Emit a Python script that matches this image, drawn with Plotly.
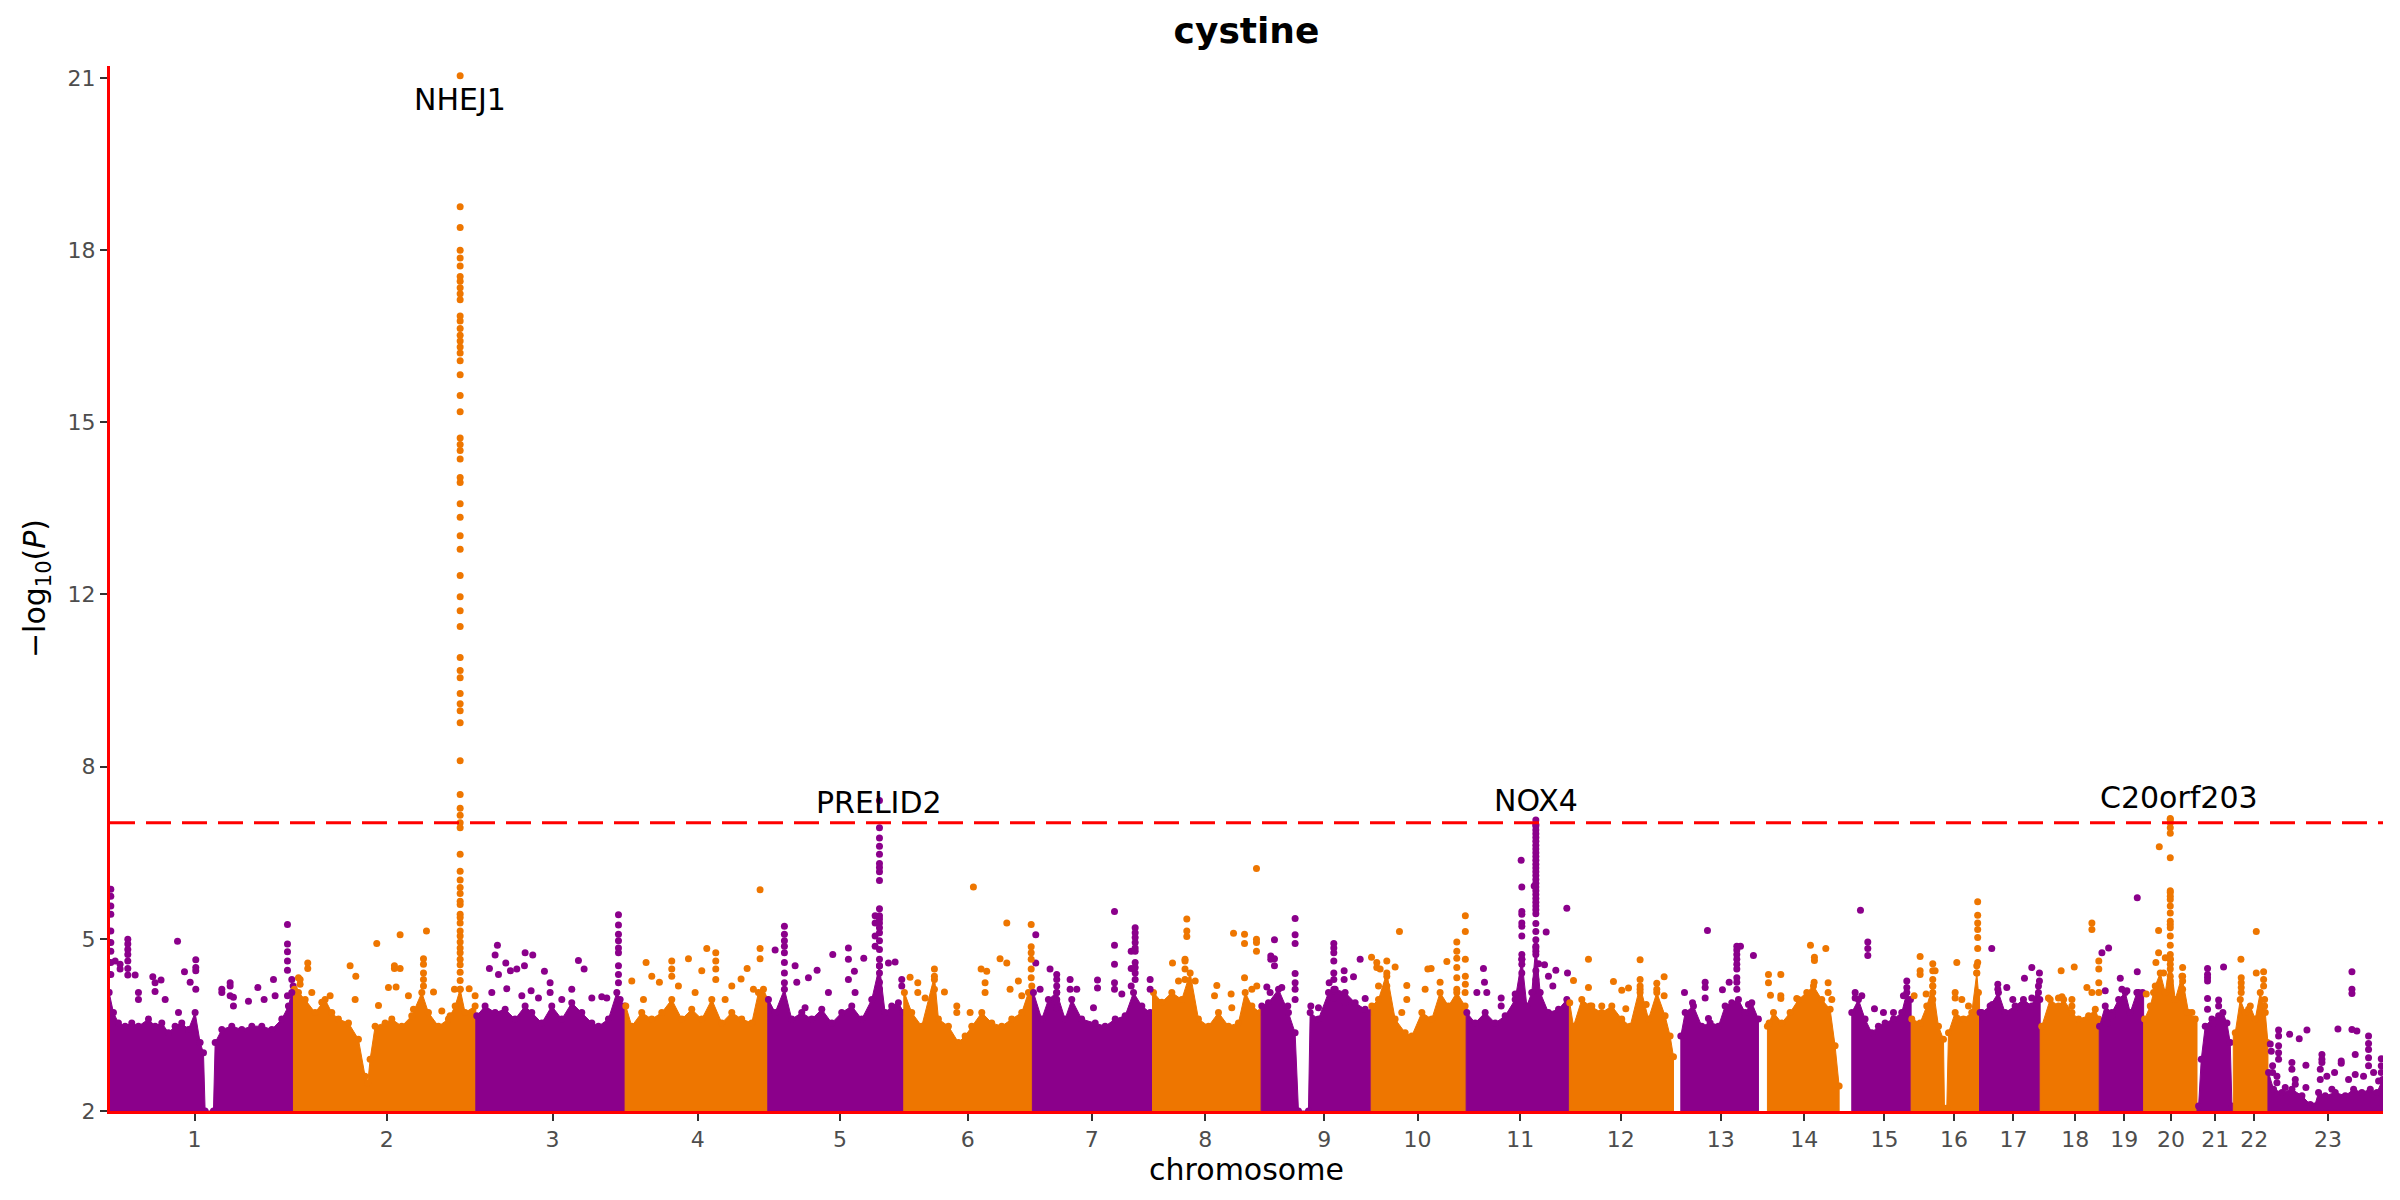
import bisect
import plotly.graph_objects as go

# chromosome layout (cumulative position, Mb)
chrom_names = [str(i) for i in range(1, 24)]
chrom_start = [0, 246.9, 490.5, 690.0, 880.6, 1062.3, 1234.1, 1394.6, 1539.7, 1686.7,
               1813.6, 1951.5, 2095.0, 2210.0, 2320.0, 2408.1, 2499.5, 2580.5, 2659.4,
               2718.7, 2790.0, 2838.5, 2884.8]
genome_end = 3039.3
tick_mb = [114.7, 371.6, 593.0, 787.0, 977.2, 1147.8, 1313.5, 1465.0, 1624.0, 1748.6,
           1885.8, 2020.2, 2153.8, 2265.2, 2372.5, 2465.5, 2544.8, 2627.4, 2692.8,
           2755.2, 2814.4, 2866.5, 2964.9]

y_breaks = [2, 5.1667, 8.3333, 11.5, 14.6667, 17.8333, 21]
y_labels = ["2", "5", "8", "12", "15", "18", "21"]
threshold = 7.3

# top of the dense cloud of SNPs (position Mb, -log10 P)
band_points = [
    # 1
    (0.65, 4.18), (6.4, 3.81), (13.1, 3.62), (22.0, 3.56), (30.9, 3.62), (39.8, 3.56), (53.2, 3.69),
    (62.1, 3.56), (71.0, 3.62), (79.9, 3.44), (88.8, 3.56), (97.7, 3.62), (106.6, 3.50), (115.5, 3.81),
    (122.2, 3.26), (126.7, 3.07), (128.9, 2.0), (140.0, 2.0), (142.3, 3.26), (151.2, 3.50), (164.5, 3.56),
    (177.9, 3.50), (191.3, 3.56), (204.6, 3.56), (218.0, 3.50), (231.3, 3.69), (240.2, 3.93), (246.5, 4.30),
    # 2
    (248.2, 4.24), (253.6, 4.18), (262.5, 4.05), (275.8, 3.81), (289.2, 4.05), (298.1, 3.81), (307.0, 3.69),
    (320.4, 3.62), (333.7, 3.32), (342.6, 2.64), (346.2, 2.52), (349.3, 2.95), (356.0, 3.56), (369.4, 3.62),
    (378.3, 3.69), (391.6, 3.56), (405.0, 3.75), (418.4, 4.18), (427.2, 3.81), (440.6, 3.56), (453.9, 3.69),
    (462.9, 3.93), (469.6, 4.24), (476.2, 3.81), (489.6, 3.93),
    # 3
    (491.8, 3.75), (502.9, 3.93), (516.3, 3.81), (529.7, 3.87), (543.0, 3.69), (556.4, 3.93), (565.3, 3.81),
    (578.7, 3.62), (592.0, 3.93), (605.4, 3.69), (618.7, 3.99), (632.1, 3.81), (645.5, 3.62), (654.4, 3.56),
    (667.7, 3.69), (678.9, 4.18), (683.3, 4.05), (689.1, 3.93),
    # 4
    (690.9, 3.93), (698.9, 3.56), (712.2, 3.81), (725.6, 3.69), (739.0, 3.81), (752.3, 4.05), (765.7, 3.69),
    (779.0, 3.87), (792.4, 3.69), (805.8, 4.05), (819.1, 3.62), (832.5, 3.81), (845.8, 3.69), (859.2, 3.62),
    (868.1, 4.18), (874.8, 4.24), (879.7, 4.05),
    # 5
    (881.5, 4.05), (890.4, 3.81), (902.8, 4.24), (912.6, 3.69), (926.0, 3.81), (939.3, 3.69), (952.7, 3.87),
    (966.1, 3.62), (979.4, 3.81), (992.8, 3.93), (1006.1, 3.69), (1019.5, 4.05), (1029.8, 4.67),
    (1037.3, 3.81), (1046.2, 3.93), (1055.1, 3.99), (1061.4, 3.81),
    # 6
    (1063.1, 4.18), (1072.9, 3.81), (1086.3, 3.56), (1103.2, 4.48), (1108.6, 3.69), (1121.9, 3.56),
    (1135.3, 3.26), (1144.2, 3.38), (1153.1, 3.56), (1166.5, 3.81), (1179.8, 3.62), (1193.2, 3.56),
    (1206.5, 3.69), (1219.9, 3.81), (1228.8, 4.18), (1233.3, 4.30),
    # 7
    (1235.5, 4.18), (1246.6, 3.69), (1255.5, 4.05), (1266.6, 4.18), (1277.8, 3.69), (1286.7, 4.05),
    (1300.0, 3.69), (1318.0, 3.62), (1331.3, 3.56), (1344.7, 3.69), (1358.0, 3.75), (1369.2, 4.18),
    (1380.3, 3.93), (1391.4, 3.81),
    # 8
    (1395.9, 4.18), (1407.0, 4.00), (1420.4, 4.18), (1433.7, 4.05), (1444.9, 4.54), (1456.0, 3.69),
    (1469.4, 3.56), (1482.7, 3.81), (1496.1, 3.56), (1509.4, 3.62), (1518.4, 4.18), (1527.3, 3.93),
    (1538.4, 3.81),
    # 9
    (1540.6, 3.93), (1549.5, 3.99), (1562.9, 4.24), (1576.2, 3.81), (1585.1, 3.44), (1589.6, 2.0),
    (1602.9, 2.0), (1605.2, 3.81), (1616.3, 3.69), (1629.7, 4.18), (1638.6, 4.24), (1651.9, 4.18),
    (1665.3, 3.99), (1678.7, 3.87), (1685.8, 3.81),
    # 10
    (1687.6, 3.93), (1696.5, 4.05), (1707.6, 4.54), (1718.7, 3.69), (1732.1, 3.44), (1741.0, 3.38),
    (1754.4, 3.81), (1767.7, 3.69), (1778.8, 4.18), (1790.0, 3.93), (1801.1, 4.18), (1812.2, 3.93),
    # 11
    (1814.5, 3.81), (1825.6, 3.62), (1839.0, 3.81), (1852.4, 3.62), (1865.7, 3.75), (1879.1, 4.05),
    (1888.0, 4.79), (1894.7, 3.93), (1901.3, 4.18), (1906.7, 5.03), (1912.5, 4.18), (1923.6, 3.81),
    (1937.0, 3.87), (1948.1, 4.05),
    # 12
    (1952.0, 3.99), (1957.0, 3.56), (1968.1, 4.05), (1979.2, 3.93), (1994.8, 3.81), (2008.2, 3.93),
    (2021.5, 3.69), (2032.7, 3.56), (2046.0, 4.30), (2057.2, 3.69), (2068.3, 4.18), (2079.4, 3.75),
    (2086.1, 3.38), (2090.6, 3.00),
    # 13
    (2100.4, 3.38), (2106.2, 3.81), (2117.3, 3.93), (2128.4, 3.56), (2139.6, 3.62), (2150.7, 3.56),
    (2159.6, 3.93), (2168.5, 3.99), (2177.4, 4.05), (2186.3, 3.81), (2195.2, 3.99), (2204.1, 3.69),
    # 14
    (2216.1, 3.56), (2224.2, 3.81), (2235.3, 3.62), (2246.4, 3.81), (2257.6, 4.05), (2268.7, 4.18),
    (2277.6, 4.30), (2288.7, 4.05), (2299.9, 3.87), (2306.5, 3.20), (2311.9, 2.46),
    # 15
    (2328.8, 3.81), (2337.7, 4.05), (2346.6, 3.69), (2355.5, 3.44), (2364.4, 3.56), (2373.3, 3.62),
    (2384.5, 3.69), (2395.6, 3.81), (2402.3, 4.18), (2407.2, 4.05),
    # 16
    (2409.0, 3.69), (2420.1, 3.62), (2429.0, 3.93), (2437.0, 4.30), (2444.6, 3.56), (2451.3, 3.32),
    (2452.6, 2.05), (2455.7, 2.05), (2458.0, 3.44), (2466.9, 3.81), (2478.0, 3.69), (2489.1, 3.81),
    (2495.8, 4.54), (2498.0, 4.18),
    # 17
    (2500.2, 3.81), (2502.5, 3.81), (2513.6, 3.93), (2524.7, 4.18), (2533.6, 3.81), (2547.0, 3.93),
    (2558.1, 4.05), (2569.3, 3.93), (2578.2, 4.30), (2580.0, 4.05),
    # 18
    (2582.6, 3.56), (2593.8, 4.05), (2604.9, 3.93), (2611.8, 4.05), (2622.9, 3.81), (2631.8, 3.69),
    (2645.2, 3.75), (2654.1, 3.87), (2658.5, 3.69),
    # 19
    (2659.8, 3.56), (2667.4, 3.93), (2676.3, 3.81), (2685.3, 4.05), (2694.2, 4.18), (2700.8, 3.81),
    (2709.7, 4.18), (2717.3, 4.18),
    # 20
    (2720.0, 3.69), (2727.6, 3.93), (2734.2, 4.30), (2740.9, 4.54), (2747.6, 4.18), (2754.3, 4.79),
    (2760.9, 4.05), (2769.9, 4.48), (2778.8, 3.81), (2787.7, 3.69),
    # 21
    (2792.1, 2.09), (2795.7, 2.95), (2801.0, 3.56), (2809.9, 3.69), (2818.9, 3.75), (2824.6, 3.81),
    (2830.0, 3.62), (2834.4, 3.26), (2836.7, 2.09),
    # 22
    (2841.1, 3.44), (2847.8, 4.05), (2854.5, 3.81), (2861.2, 3.93), (2867.8, 3.69), (2874.5, 4.18),
    (2881.2, 3.81), (2884.0, 3.26),
    # 23
    (2885.6, 2.71), (2892.3, 2.40), (2903.5, 2.34), (2916.8, 2.40), (2930.2, 2.28), (2941.3, 2.12),
    (2947.1, 2.09), (2952.4, 2.34), (2961.3, 2.28), (2974.7, 2.34), (2988.1, 2.28), (2999.2, 2.40),
    (3010.3, 2.34), (3021.5, 2.40), (3030.4, 2.34), (3038.0, 2.58),
]

# single SNPs standing out above the cloud (position Mb, -log10 P)
hit_points = [
    # 1
    (2.9, 6.08), (2.9, 5.95), (2.9, 5.77), (2.9, 5.62), (2.9, 5.31), (2.9, 5.10), (2.9, 4.94), (2.9, 4.73),
    (2.9, 4.51), (8.7, 4.76), (15.3, 4.70), (15.3, 4.61), (25.6, 5.16), (25.6, 5.07), (25.6, 4.97),
    (25.6, 4.88), (25.6, 4.76), (25.6, 4.62), (25.6, 4.50), (35.4, 4.50), (39.8, 4.18), (39.8, 4.05),
    (59.0, 4.47), (62.0, 4.36), (62.0, 4.20), (70.0, 4.41), (75.5, 4.05), (92.0, 5.12), (93.3, 3.81),
    (101.3, 4.56), (108.9, 4.37), (116.4, 4.78), (116.4, 4.64), (116.4, 4.58), (116.4, 4.24),
    (151.2, 4.24), (151.2, 4.18), (162.3, 4.36), (162.3, 4.30), (162.3, 4.12), (166.7, 4.09),
    (166.7, 3.93), (186.8, 4.02), (199.3, 4.27), (207.7, 4.05), (220.2, 4.42), (222.4, 4.12),
    (238.9, 5.43), (238.9, 5.07), (238.9, 4.93), (238.9, 4.76), (238.9, 4.59), (238.9, 4.12),
    (244.7, 4.42), (244.7, 4.18),
    # 2
    (253.6, 4.45), (255.8, 4.42), (255.8, 4.33), (266.0, 4.72), (266.0, 4.62), (271.4, 4.18),
    (284.8, 4.00), (295.9, 4.12), (322.6, 4.67), (329.3, 4.05), (330.2, 4.48), (358.2, 5.08),
    (360.5, 3.94), (373.8, 4.27), (381.8, 4.67), (381.8, 4.62), (384.0, 4.28), (389.4, 5.24),
    (389.4, 4.62), (400.5, 4.12), (407.2, 3.87), (420.6, 4.80), (420.6, 4.70), (420.6, 4.54),
    (420.6, 4.42), (420.6, 4.30), (424.6, 5.31), (434.0, 4.19), (445.1, 3.84), (456.2, 3.75),
    (462.0, 4.24), (481.6, 4.25), (489.6, 4.12),
    # 3
    (508.7, 4.62), (511.9, 4.18), (516.3, 4.87), (519.4, 5.05), (520.8, 4.51), (530.6, 4.72),
    (531.9, 4.25), (536.8, 4.58), (545.3, 4.61), (552.0, 4.12), (555.5, 4.67), (556.4, 4.91),
    (564.4, 4.21), (566.6, 4.87), (574.2, 4.08), (582.2, 4.57), (589.8, 4.36), (589.8, 4.18),
    (605.4, 4.05), (618.7, 4.24), (627.6, 4.77), (635.2, 4.61), (645.5, 4.08), (658.8, 4.10),
    (665.5, 4.08), (681.1, 5.61), (681.1, 5.42), (681.1, 5.25), (681.1, 5.13), (681.1, 5.00),
    (681.1, 4.91), (681.1, 4.67), (681.1, 4.51), (681.1, 4.36),
    # 4
    (698.9, 4.39), (714.5, 4.05), (718.0, 4.73), (725.6, 4.48), (735.8, 4.37), (752.3, 4.76),
    (752.3, 4.61), (752.3, 4.48), (761.2, 4.30), (774.6, 4.80), (783.5, 4.18), (792.4, 4.58),
    (799.1, 4.99), (811.1, 4.91), (811.1, 4.76), (811.1, 4.61), (811.1, 4.42), (823.6, 4.05),
    (832.5, 4.30), (844.9, 4.43), (853.0, 4.62), (861.4, 4.24), (870.3, 6.07), (870.3, 4.99),
    (870.3, 4.80),
    # 5
    (890.4, 4.96), (902.8, 5.40), (902.8, 5.25), (902.8, 5.13), (902.8, 5.03), (902.8, 4.91),
    (902.8, 4.73), (902.8, 4.54), (902.8, 4.36), (917.1, 4.67), (919.3, 4.37), (930.4, 3.90),
    (934.9, 4.45), (946.5, 4.59), (961.6, 4.18), (967.4, 4.88), (988.3, 5.00), (988.3, 4.79),
    (988.3, 4.42), (996.3, 4.57), (997.2, 4.18), (1008.8, 4.81), (1024.0, 5.59), (1024.0, 5.46),
    (1024.0, 5.22), (1024.0, 5.03), (1041.8, 4.72), (1050.7, 4.74), (1059.6, 4.42), (1059.6, 4.30),
    # 6
    (1070.7, 4.46), (1081.0, 4.36), (1081.0, 4.18), (1090.8, 4.08), (1103.2, 4.61), (1103.2, 4.42),
    (1103.2, 4.24), (1116.6, 4.19), (1133.1, 3.93), (1133.1, 3.81), (1150.9, 3.81), (1155.3, 6.12),
    (1165.6, 4.61), (1170.9, 4.36), (1170.9, 4.18), (1173.1, 4.57), (1190.9, 4.80), (1199.9, 5.46),
    (1199.9, 4.72), (1204.3, 4.24), (1215.4, 4.39), (1219.9, 4.12), (1232.5, 5.43), (1232.5, 5.02),
    (1232.5, 4.91), (1232.5, 4.79), (1232.5, 4.61), (1232.5, 4.45),
    # 7
    (1238.6, 5.24), (1238.6, 4.72), (1244.4, 4.24), (1257.7, 4.61), (1266.6, 4.51), (1266.6, 4.42),
    (1266.6, 4.30), (1266.6, 4.18), (1266.6, 4.05), (1266.6, 3.90), (1284.5, 4.42), (1284.5, 4.24),
    (1293.4, 4.24), (1315.7, 3.90), (1321.1, 4.41), (1321.1, 4.26), (1343.8, 5.67), (1343.8, 5.05),
    (1343.8, 4.70), (1343.8, 4.36), (1343.8, 4.24), (1353.6, 4.15), (1366.1, 4.94), (1366.1, 4.62),
    (1366.1, 4.30), (1371.4, 5.37), (1371.4, 5.28), (1371.4, 5.19), (1371.4, 5.10), (1371.4, 5.00),
    (1371.4, 4.94), (1371.4, 4.73), (1371.4, 4.64), (1371.4, 4.54), (1371.4, 4.42), (1391.4, 4.42),
    (1391.4, 4.24),
    # 8
    (1421.3, 4.72), (1429.3, 4.39), (1438.0, 4.79), (1438.0, 4.76), (1438.0, 4.61), (1438.0, 4.42),
    (1440.4, 5.53), (1440.4, 5.31), (1440.4, 5.21), (1451.6, 4.39), (1477.4, 4.12), (1480.5, 4.31),
    (1499.6, 4.15), (1500.5, 3.90), (1502.8, 5.27), (1517.5, 5.25), (1517.5, 5.08), (1517.5, 4.45),
    (1527.3, 4.24), (1533.5, 6.46), (1533.5, 5.16), (1533.5, 5.10), (1533.5, 4.94), (1533.9, 4.30),
    # 9
    (1547.3, 4.28), (1551.7, 4.18), (1552.6, 4.85), (1552.6, 4.79), (1557.5, 5.15), (1557.5, 4.80),
    (1557.5, 4.67), (1567.3, 4.27), (1575.3, 3.93), (1585.1, 5.54), (1585.1, 5.24), (1585.1, 5.08),
    (1585.1, 4.53), (1585.1, 4.36), (1585.1, 4.24), (1585.1, 4.05), (1606.1, 3.93), (1616.3, 3.90),
    (1630.6, 4.36), (1636.8, 5.08), (1636.8, 5.00), (1636.8, 4.91), (1636.8, 4.76), (1636.8, 4.54),
    (1636.8, 4.42), (1636.8, 4.24), (1636.8, 4.08), (1650.6, 4.58), (1650.6, 4.42), (1651.9, 3.99),
    (1663.1, 4.47), (1672.0, 4.79), (1678.7, 4.07),
    # 10
    (1687.2, 4.83), (1694.2, 4.73), (1694.2, 4.64), (1696.5, 4.30), (1698.7, 4.61), (1707.6, 4.76),
    (1707.6, 4.48), (1707.6, 4.30), (1718.7, 4.65), (1724.5, 5.30), (1727.6, 3.81), (1734.3, 4.31),
    (1734.3, 4.05), (1758.8, 4.24), (1762.4, 4.61), (1766.8, 4.62), (1778.8, 4.37), (1787.8, 4.75),
    (1801.1, 5.11), (1801.1, 4.94), (1801.1, 4.81), (1801.1, 4.64), (1801.1, 4.45), (1801.1, 4.24),
    (1812.2, 4.18), (1812.5, 5.59), (1812.5, 5.30), (1812.5, 4.79), (1812.5, 4.48), (1812.5, 4.33),
    # 11
    (1827.9, 4.18), (1836.7, 4.62), (1838.1, 4.37), (1841.2, 4.18), (1860.4, 4.08), (1860.4, 3.93),
    (1879.1, 4.15), (1887.1, 6.61), (1888.0, 6.12), (1888.0, 5.67), (1888.0, 5.62), (1888.0, 5.46),
    (1888.0, 5.40), (1888.0, 5.22), (1888.0, 4.88), (1888.0, 4.79), (1888.0, 4.70), (1888.0, 4.54),
    (1904.5, 6.14), (1910.3, 4.71), (1918.3, 4.69), (1920.5, 5.29), (1923.6, 4.48), (1929.4, 4.30),
    (1933.4, 4.59), (1948.1, 5.73), (1949.0, 4.54),
    # 12
    (1957.0, 4.40), (1977.0, 4.79), (1977.0, 4.27), (1981.5, 3.93), (1994.8, 3.93), (2010.4, 4.38),
    (2021.5, 4.22), (2026.9, 3.88), (2030.5, 4.26), (2046.0, 4.78), (2046.0, 4.42), (2046.0, 4.24),
    (2046.0, 4.18), (2054.1, 3.96), (2068.3, 4.35), (2068.3, 4.24), (2078.1, 4.47), (2078.1, 4.12),
    # 13
    (2105.3, 4.18), (2116.0, 3.99), (2132.9, 4.37), (2132.9, 4.27), (2132.9, 4.08), (2136.0, 5.32),
    (2137.3, 3.70), (2144.0, 3.55), (2156.0, 4.23), (2165.0, 4.37), (2175.2, 5.03), (2175.2, 4.96),
    (2175.2, 4.88), (2175.2, 4.79), (2175.2, 4.70), (2175.2, 4.61), (2175.2, 4.45), (2175.2, 4.37),
    (2175.2, 4.24), (2180.1, 5.03), (2190.8, 3.96), (2197.4, 4.86),
    # 14
    (2217.5, 4.51), (2217.5, 4.36), (2218.4, 3.62), (2220.2, 4.13), (2234.0, 4.51), (2234.0, 4.12),
    (2234.0, 4.07), (2255.3, 4.07), (2273.6, 5.05), (2278.5, 4.37), (2278.9, 4.83), (2278.9, 4.77),
    (2294.1, 4.99), (2297.2, 4.36), (2297.2, 4.18), (2302.1, 4.05),
    # 15
    (2333.3, 4.18), (2333.3, 4.08), (2340.4, 5.69), (2342.2, 4.12), (2350.2, 5.11), (2350.2, 4.99),
    (2350.2, 4.86), (2359.1, 3.88), (2371.1, 3.81), (2384.5, 3.81), (2397.8, 4.12), (2402.3, 4.39),
    (2402.3, 4.27),
    # 16
    (2412.1, 4.12), (2420.1, 4.84), (2420.1, 4.58), (2420.1, 4.51), (2428.1, 4.15), (2437.0, 4.71),
    (2437.0, 4.58), (2437.0, 4.42), (2437.0, 4.30), (2437.0, 4.18), (2437.0, 4.05), (2440.1, 4.58),
    (2466.9, 4.18), (2466.9, 4.08), (2469.1, 4.73), (2475.8, 4.05), (2484.7, 3.93), (2495.8, 4.67),
    (2495.8, 4.54), (2497.0, 5.85), (2497.0, 5.60), (2497.0, 5.46), (2497.0, 5.34), (2497.0, 5.19),
    (2497.0, 4.99), (2497.0, 4.73),
    # 17
    (2504.7, 3.73), (2515.8, 4.99), (2516.7, 3.96), (2523.9, 4.33), (2523.9, 4.24), (2535.9, 4.27),
    (2543.9, 4.05), (2553.7, 3.90), (2559.5, 4.44), (2569.3, 4.64), (2569.3, 4.08), (2578.2, 4.18),
    (2579.5, 4.54), (2579.5, 4.39),
    # 18
    (2591.5, 4.08), (2604.9, 4.08), (2608.5, 4.58), (2609.6, 4.10), (2622.9, 4.05), (2622.9, 3.93),
    (2626.0, 4.65), (2642.9, 4.27), (2649.6, 5.46), (2649.6, 5.34), (2649.6, 4.18), (2658.8, 4.76),
    (2658.8, 4.61), (2658.8, 4.36), (2658.8, 4.18),
    # 19
    (2663.0, 4.91), (2667.4, 4.21), (2671.0, 3.62), (2671.9, 5.00), (2676.3, 3.75), (2687.5, 4.44),
    (2689.7, 4.24), (2696.4, 4.21), (2710.2, 5.92), (2710.2, 4.56), (2712.0, 4.18),
    # 20
    (2722.2, 4.15), (2732.0, 4.18), (2735.1, 4.73), (2738.7, 5.32), (2738.7, 4.91), (2739.6, 6.86),
    (2745.4, 4.54), (2747.6, 4.82), (2770.8, 4.64), (2770.8, 4.48), (2770.8, 4.39), (2770.8, 4.24),
    (2770.8, 4.05), (2776.5, 3.81), (2783.2, 3.81),
    # 21
    (2804.1, 4.62), (2804.1, 4.51), (2804.1, 4.45), (2804.1, 4.39), (2804.1, 4.07), (2804.1, 3.87),
    (2812.2, 3.62), (2818.9, 4.04), (2818.9, 3.93), (2825.5, 4.65),
    # 22
    (2848.7, 4.79), (2849.1, 4.45), (2849.1, 4.36), (2849.1, 4.27), (2849.1, 4.18), (2858.9, 3.87),
    (2869.2, 5.30), (2869.2, 4.54), (2879.0, 4.56), (2879.0, 4.42), (2879.0, 4.30), (2880.3, 4.05),
    (2880.3, 3.93),
    # 23
    (2887.9, 3.23), (2889.2, 3.10), (2891.0, 2.83), (2891.0, 2.71), (2896.8, 2.64), (2896.8, 2.52),
    (2899.0, 3.49), (2899.0, 3.38), (2899.0, 3.20), (2899.0, 3.07), (2899.0, 2.95), (2907.9, 2.43),
    (2913.7, 3.41), (2916.8, 2.89), (2916.8, 2.77), (2921.3, 2.58), (2921.3, 2.49), (2926.6, 3.33),
    (2935.5, 2.84), (2935.5, 2.43), (2936.9, 3.49), (2954.7, 2.77), (2954.7, 2.58), (2956.9, 3.04),
    (2956.9, 2.95), (2956.9, 2.89), (2963.5, 2.64), (2970.2, 2.40), (2973.8, 2.71), (2978.3, 3.51),
    (2982.7, 2.92), (2982.7, 2.88), (2992.5, 2.58), (2997.0, 4.56), (2997.0, 4.24), (2997.0, 4.16),
    (2997.0, 3.50), (3001.4, 3.04), (3001.4, 2.67), (3003.6, 3.47), (3012.5, 2.64), (3019.2, 3.38),
    (3019.2, 3.24), (3019.2, 3.13), (3019.2, 2.98), (3019.2, 2.83), (3025.9, 2.71), (3032.6, 2.55),
    (3036.2, 2.96), (3036.2, 2.83), (3036.2, 2.71),
]

# lead loci
peak_genes = ["NHEJ1", "PRELID2", "NOX4", "C20orf203"]
peak_mb = [469.6, 1029.8, 1906.7, 2754.3]
nhej1_logp = [21.04, 18.63, 18.25, 17.83, 17.69, 17.54, 17.35, 17.26, 17.14, 17.03, 16.92, 16.62,
              16.53, 16.39, 16.27, 16.16, 16.05, 15.94, 15.80, 15.54, 15.16, 14.86, 14.38, 14.26,
              14.15, 13.99, 13.65, 13.56, 13.17, 12.92, 12.58, 12.33, 11.85, 11.46, 11.20, 10.91,
              10.34, 10.10, 9.97, 9.68, 9.49, 9.36, 9.14, 8.44, 7.82, 7.57, 7.44, 7.30, 7.21, 6.72,
              6.41, 6.25, 6.11, 6.00, 5.86, 5.80, 5.62, 5.56, 5.46, 5.31, 5.22, 5.11, 5.00, 4.91,
              4.79, 4.69, 4.55, 4.40, 4.24]
prelid2_logp = [7.71, 7.21, 7.02, 6.87, 6.72, 6.55, 6.48, 6.40, 6.24, 5.72, 5.59, 5.53, 5.46, 5.37,
                5.28, 5.13, 4.97, 4.79, 4.67, 4.54, 4.37, 4.24]
nox4_logp = [7.35, 7.27, 7.24, 7.17, 7.10, 7.03, 6.96, 6.89, 6.82, 6.75, 6.68, 6.61, 6.54, 6.47,
             6.40, 6.33, 6.26, 6.19, 6.12, 6.05, 5.98, 5.91, 5.84, 5.77, 5.70, 5.63, 5.45, 5.30,
             5.15, 5.00, 4.94, 4.88, 4.58, 4.42]
c20orf203_logp = [7.38, 7.36, 7.30, 7.21, 7.11, 6.66, 6.05, 6.02, 5.95, 5.89, 5.77, 5.64, 5.49,
                  5.43, 5.37, 5.22, 5.05, 4.88, 4.79, 4.70, 4.61, 4.48, 4.39, 4.24]
label_mb = [469.6, 1029.5, 1906.9, 2766.3]
label_logp = [20.6, 7.68, 7.72, 7.76]

PURPLE = "#8B008B"
ORANGE = "#EE7600"
FONT = "DejaVu Sans"


def chrom_index(mb):
    return bisect.bisect_right(chrom_start, mb) - 1


def chrom_color(i):
    return PURPLE if i % 2 == 0 else ORANGE


fig = go.Figure()

# dense cloud per chromosome
for i in range(len(chrom_names)):
    pts = sorted(p for p in band_points if chrom_index(p[0]) == i)
    lo = chrom_start[i]
    hi = chrom_start[i + 1] if i + 1 < len(chrom_start) else genome_end
    # close the small seams at chromosome borders, keep the real gaps
    x0 = lo if pts[0][0] - lo < 4 else pts[0][0]
    x1 = hi if hi - pts[-1][0] < 4 else pts[-1][0]
    xs = [x0, x0] + [p[0] for p in pts] + [x1, x1]
    ys = [2, pts[0][1]] + [p[1] for p in pts] + [pts[-1][1], 2]
    col = chrom_color(i)
    fig.add_trace(go.Scatter(x=xs, y=ys, mode="lines", fill="toself", fillcolor=col,
                             line=dict(color=col, width=1), hoverinfo="skip", showlegend=False))
    fig.add_trace(go.Scatter(x=[p[0] for p in pts], y=[p[1] for p in pts], mode="markers",
                             marker=dict(color=col, size=7, line=dict(width=0)),
                             hoverinfo="skip", showlegend=False))

# individual SNPs
all_points = list(hit_points)
for mb, col_vals in zip(peak_mb, [nhej1_logp, prelid2_logp, nox4_logp, c20orf203_logp]):
    all_points += [(mb, v) for v in col_vals]

for parity, col in [(0, PURPLE), (1, ORANGE)]:
    sel = [p for p in all_points if chrom_index(p[0]) % 2 == parity]
    fig.add_trace(go.Scatter(x=[p[0] for p in sel], y=[p[1] for p in sel], mode="markers",
                             marker=dict(color=col, size=7, line=dict(width=0)),
                             showlegend=False))

fig.add_hline(y=threshold, line_dash="25px,11px", line_color="red", line_width=3)

for gene, x, y in zip(peak_genes, label_mb, label_logp):
    fig.add_annotation(x=x, y=y, text=gene, showarrow=False, xanchor="center", yanchor="middle",
                       font=dict(family=FONT, size=30, color="black"))

axis_common = dict(showline=True, linecolor="red", linewidth=3, ticks="outside", ticklen=7,
                   tickwidth=2, tickcolor="#333333", showgrid=False, zeroline=False,
                   tickfont=dict(family=FONT, size=22, color="#4D4D4D"))

# page body keeps an 8px margin, so the figure is sized to sit inside the window
fig.update_layout(
    width=2384, height=1184,
    margin=dict(l=102, r=9, t=58, b=81),
    paper_bgcolor="white", plot_bgcolor="white",
    font=dict(family=FONT),
    title=dict(text="<b>cystine</b>", x=0.5, xref="paper", xanchor="center",
               y=0.9814, yanchor="middle", font=dict(family=FONT, size=36, color="black")),
    xaxis=dict(range=[1.8, 3038.5], tickvals=tick_mb, ticktext=chrom_names,
               title=dict(text="chromosome", font=dict(family=FONT, size=30, color="black"),
                          standoff=8),
               **axis_common),
    yaxis=dict(range=[2, 21.22], tickvals=y_breaks, ticktext=y_labels,
               title=dict(text="\u2212log<sub>10</sub>(<i>P</i>)",
                          font=dict(family=FONT, size=30, color="black"), standoff=14),
               **axis_common),
)

fig.write_html("out.html")
